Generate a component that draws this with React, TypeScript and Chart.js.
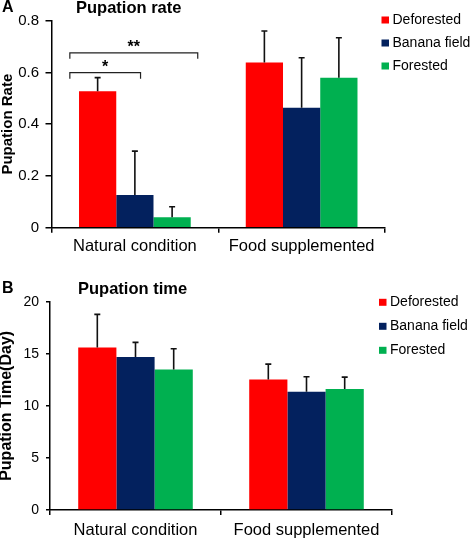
import React, { useEffect, useRef } from "react";
import { Chart, registerables } from "chart.js";
Chart.register(...registerables);

const FONT = "'Liberation Sans', Arial, Helvetica, sans-serif";

// ---- shared ----
const categories = ["Natural condition", "Food supplemented"];
const seriesNames = ["Deforested", "Banana field", "Forested"];
const seriesColors = ["#ff0000", "#03215e", "#00b050"];

// ---- panel A: pupation rate ----
const rateDeforested = [0.527, 0.638];
const rateBanana = [0.126, 0.464];
const rateForested = [0.04, 0.58];
const rateErrDeforested = [0.053, 0.122];
const rateErrBanana = [0.17, 0.193];
const rateErrForested = [0.041, 0.154];
const rateMax = 0.8;
const rateStep = 0.2;

// significance brackets (x in category-index units, y in rate units)
const sigLabels = ["*", "**"];
const sigStart = [-0.39, -0.39];
const sigEnd = [0.034, 0.377];
const sigY = [0.599, 0.676];

// ---- panel B: pupation time ----
const timeDeforested = [15.61, 12.54];
const timeBanana = [14.68, 11.35];
const timeForested = [13.5, 11.61];
const timeErrDeforested = [3.17, 1.47];
const timeErrBanana = [1.41, 1.44];
const timeErrForested = [1.98, 1.15];
const timeMax = 20;
const timeStep = 5;

type Panel = {
  letter: string;
  title: string;
  yTitle: string;
  values: number[][];
  errors: number[][];
  yMax: number;
  yStep: number;
  canvasH: number;
  areaTop: number;
  areaBottom: number;
  areaLeft: number;
  areaRight: number;
  tickFont: number;
  yTitleFont: number;
  yTitleLH: number;
  yTickLen: number;
  yTickPad: number;
  xTickPad: number;
  catFont: number;
  titleY: number;
  letterX: number;
  titleX: number;
  legendX: number;
  legendY: number;
  legendGap: number;
  brackets: boolean;
};

function makeChart(canvas: HTMLCanvasElement, p: Panel) {
  const decoPlugin = {
    id: "deco" + p.letter,
    afterDatasetsDraw(chart: any) {
      const ctx = chart.ctx as CanvasRenderingContext2D;
      const y = chart.scales.y;
      ctx.save();
      ctx.strokeStyle = "#111";
      ctx.lineWidth = 1.6;
      chart.data.datasets.forEach((ds: any, i: number) => {
        const meta = chart.getDatasetMeta(i);
        meta.data.forEach((bar: any, j: number) => {
          const v = ds.data[j] as number;
          const e = ds.errors[j] as number;
          const yt = y.getPixelForValue(v + e);
          const yb = y.getPixelForValue(v);
          ctx.beginPath();
          ctx.moveTo(bar.x, yb);
          ctx.lineTo(bar.x, yt);
          ctx.moveTo(bar.x - 3, yt);
          ctx.lineTo(bar.x + 3, yt);
          ctx.stroke();
        });
      });
      ctx.restore();
    },
    afterDraw(chart: any) {
      const ctx = chart.ctx as CanvasRenderingContext2D;
      ctx.save();
      // titles
      ctx.fillStyle = "#000";
      ctx.textBaseline = "middle";
      ctx.textAlign = "left";
      ctx.font = `bold 16px ${FONT}`;
      ctx.fillText(p.letter, p.letterX, p.titleY);
      ctx.font = `bold 16.5px ${FONT}`;
      ctx.fillText(p.title, p.titleX, p.titleY);
      // legend
      ctx.font = `14px ${FONT}`;
      chart.data.datasets.forEach((ds: any, i: number) => {
        const cy = p.legendY + i * p.legendGap;
        ctx.fillStyle = ds.backgroundColor;
        ctx.fillRect(p.legendX, cy - 3.5, 7.5, 7);
        ctx.fillStyle = "#000";
        ctx.fillText(ds.label, p.legendX + 11, cy);
      });
      // significance brackets
      if (p.brackets) {
        const x = chart.scales.x;
        const y = chart.scales.y;
        ctx.strokeStyle = "#222";
        ctx.lineWidth = 1.2;
        sigLabels.forEach((lab, k) => {
          const x1 = x.getPixelForValue(sigStart[k]);
          const x2 = x.getPixelForValue(sigEnd[k]);
          const yy = y.getPixelForValue(sigY[k]);
          ctx.beginPath();
          ctx.moveTo(x1, yy + 6);
          ctx.lineTo(x1, yy);
          ctx.lineTo(x2, yy);
          ctx.lineTo(x2, yy + 6);
          ctx.stroke();
          ctx.fillStyle = "#000";
          ctx.font = `bold 16px ${FONT}`;
          ctx.textAlign = "center";
          ctx.textBaseline = "alphabetic";
          ctx.fillText(lab, (x1 + x2) / 2, yy - 1);
        });
      }
      ctx.restore();
    },
  };

  return new Chart(canvas, {
    type: "bar",
    data: {
      labels: categories,
      datasets: seriesNames.map((name, i) => ({
        label: name,
        data: p.values[i],
        errors: p.errors[i],
        backgroundColor: seriesColors[i],
        borderWidth: 0,
        categoryPercentage: 0.67,
        barPercentage: 1,
      })) as any,
    },
    options: {
      responsive: false,
      animation: false,
      devicePixelRatio: 1,
      layout: {
        padding: {
          top: p.areaTop,
          left: 0,
          right: 470 - p.areaRight,
          bottom: 0,
        },
      },
      plugins: {
        legend: { display: false },
        tooltip: { enabled: false },
        title: { display: false },
      },
      scales: {
        x: {
          afterFit: (s: any) => {
            s.height = p.canvasH - p.areaBottom;
          },
          border: { color: "#000", width: 1.5 },
          grid: {
            drawOnChartArea: false,
            drawTicks: true,
            tickLength: 5,
            color: "#000",
            lineWidth: 1.5,
          },
          ticks: {
            color: "#000",
            padding: p.xTickPad,
            font: { size: p.catFont, family: FONT, lineHeight: 1.2 },
          },
        },
        y: {
          min: 0,
          max: p.yMax,
          afterFit: (s: any) => {
            s.width = p.areaLeft;
          },
          border: { color: "#000", width: 1.5 },
          grid: {
            drawOnChartArea: false,
            drawTicks: true,
            tickLength: p.yTickLen,
            color: "#000",
            lineWidth: 1.5,
          },
          ticks: {
            stepSize: p.yStep,
            color: "#000",
            padding: p.yTickPad,
            font: { size: p.tickFont, family: FONT },
          },
          title: {
            display: true,
            text: p.yTitle,
            color: "#000",
            padding: { top: 0, bottom: 0 },
            font: {
              size: p.yTitleFont,
              weight: "bold",
              family: FONT,
              lineHeight: p.yTitleLH,
            },
          },
        },
      },
    } as any,
    plugins: [decoPlugin as any],
  });
}

const panelA: Panel = {
  letter: "A",
  title: "Pupation rate",
  yTitle: "Pupation Rate",
  values: [rateDeforested, rateBanana, rateForested],
  errors: [rateErrDeforested, rateErrBanana, rateErrForested],
  yMax: rateMax,
  yStep: rateStep,
  canvasH: 270,
  areaTop: 20.7,
  areaBottom: 227.7,
  areaLeft: 51.5,
  areaRight: 385,
  tickFont: 15,
  yTitleFont: 15,
  yTitleLH: 1,
  yTickLen: 6,
  yTickPad: 6.5,
  xTickPad: 4,
  catFont: 16.5,
  titleY: 8,
  letterX: 2,
  titleX: 76,
  legendX: 381.5,
  legendY: 20,
  legendGap: 23,
  brackets: true,
};

const panelB: Panel = {
  letter: "B",
  title: "Pupation time",
  yTitle: "Pupation Time(Day)",
  values: [timeDeforested, timeBanana, timeForested],
  errors: [timeErrDeforested, timeErrBanana, timeErrForested],
  yMax: timeMax,
  yStep: timeStep,
  canvasH: 269,
  areaTop: 31.7,
  areaBottom: 240,
  areaLeft: 50,
  areaRight: 392,
  tickFont: 14,
  yTitleFont: 16,
  yTitleLH: 0.875,
  yTickLen: 4,
  yTickPad: 7,
  xTickPad: 6,
  catFont: 16.5,
  titleY: 19,
  letterX: 2,
  titleX: 78,
  legendX: 379,
  legendY: 32.3,
  legendGap: 24,
  brackets: false,
};

function PanelChart({ panel, top }: { panel: Panel; top: number }) {
  const ref = useRef<HTMLCanvasElement | null>(null);
  useEffect(() => {
    if (!ref.current) return;
    const chart = makeChart(ref.current, panel);
    return () => chart.destroy();
  }, [panel]);
  return (
    <div
      style={{
        position: "absolute",
        left: 0,
        top,
        width: 470,
        height: panel.canvasH,
      }}
    >
      <canvas
        ref={ref}
        width={470}
        height={panel.canvasH}
        style={{ display: "block", width: 470, height: panel.canvasH }}
      />
    </div>
  );
}

export default function App() {
  return (
    <div
      style={{
        position: "absolute",
        left: 0,
        top: 0,
        width: 470,
        height: 539,
        background: "#fff",
      }}
    >
      <PanelChart panel={panelA} top={0} />
      <PanelChart panel={panelB} top={270} />
    </div>
  );
}
